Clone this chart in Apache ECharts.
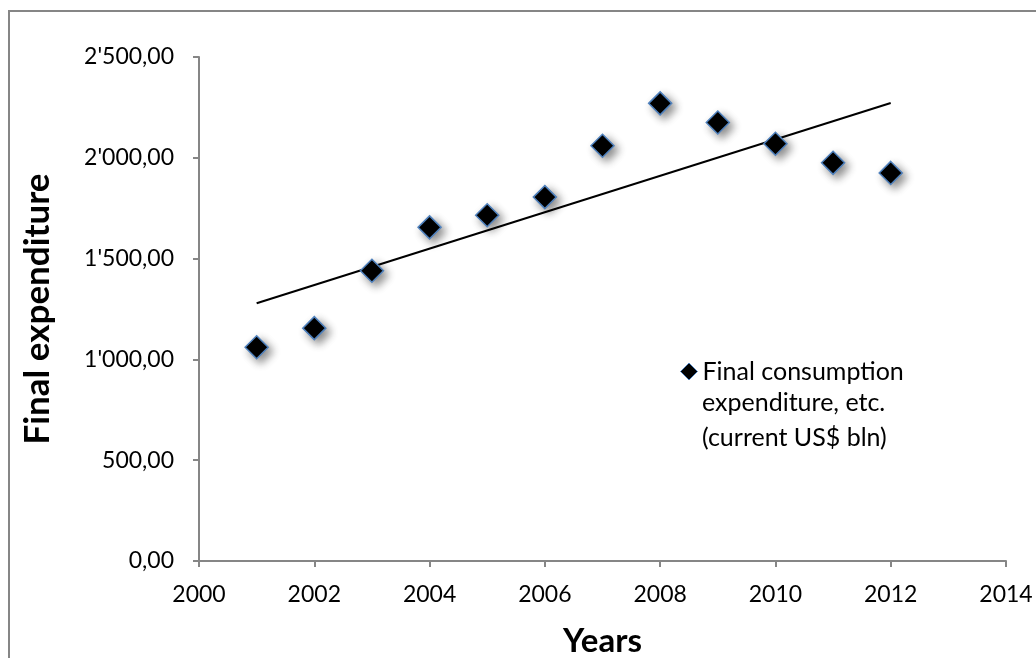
<!DOCTYPE html>
<html><head><meta charset="utf-8">
<script src="https://cdn.jsdelivr.net/npm/echarts@6/dist/echarts.min.js"></script>
<style>html,body{margin:0;padding:0;background:#fff}#c{width:1036px;height:658px}</style>
</head><body><div id="c"></div>
<script>
const years = [2001,2002,2003,2004,2005,2006,2007,2008,2009,2010,2011,2012];
const expenditure = [1060,1155,1440,1655,1715,1805,2060,2270,2175,2070,1975,1925];
const xTicks = [2000,2002,2004,2006,2008,2010,2012,2014];
const yTicks = [0,500,1000,1500,2000,2500];
const seriesName = 'Final consumption\nexpenditure, etc.\n(current US$ bln)';
const nameLines = seriesName.split('\n');

// linear trend (least squares) from the data
const n = years.length;
const mx = years.reduce((a,b)=>a+b,0)/n;
const my = expenditure.reduce((a,b)=>a+b,0)/n;
let sxy=0, sxx=0;
for (let i=0;i<n;i++){ sxy+=(years[i]-mx)*(expenditure[i]-my); sxx+=(years[i]-mx)*(years[i]-mx); }
const slope = sxy/sxx, icpt = my - slope*mx;
const trend = [years[0], years[n-1]].map(x=>[x, icpt+slope*x]);

function fmt(v){
  const s = v.toFixed(2).split('.');
  const int = s[0].replace(/\B(?=(\d{3})+(?!\d))/g, "'");
  return int + ',' + s[1];
}
const FONT = 'Lato, "Open Sans", sans-serif';
const AX = '#868686';
const chart = echarts.init(document.getElementById('c'), null, {renderer:'canvas'});
chart.setOption({
  animation:false,
  backgroundColor:'#fff',
  graphic:[
    {type:'rect', shape:{x:9,y:11,width:1200,height:800}, style:{fill:'none', stroke:AX, lineWidth:2}, silent:true},
    {type:'text', left:702, top:385, silent:true,
      style:{text:nameLines.slice(1).join('\n'), font:'25px Lato, "Open Sans", sans-serif', fill:'#000', lineHeight:35}}
  ],
  grid:{left:199, right:30, top:57, bottom:97, containLabel:false, outerBoundsMode:'none'},
  xAxis:{type:'value', min:xTicks[0], max:xTicks[xTicks.length-1], interval:2,
    name:'Years', nameLocation:'middle', nameGap:64,
    nameTextStyle:{fontFamily:FONT, fontSize:33, fontWeight:'bold', color:'#000'},
    axisLine:{show:true, lineStyle:{color:AX, width:2}},
    axisTick:{show:true, length:6, lineStyle:{color:AX, width:2}},
    axisLabel:{fontFamily:FONT, fontSize:23, color:'#000', margin:22, formatter:v=>String(v)},
    splitLine:{show:false}},
  yAxis:{type:'value', min:yTicks[0], max:yTicks[yTicks.length-1], interval:500,
    name:'Final expenditure', nameLocation:'middle', nameGap:144,
    nameTextStyle:{fontFamily:FONT, fontSize:35, fontWeight:'bold', color:'#000'},
    axisLine:{show:true, lineStyle:{color:AX, width:2}},
    axisTick:{show:true, length:6, lineStyle:{color:AX, width:2}},
    axisLabel:{fontFamily:FONT, fontSize:23, color:'#000', margin:25, formatter:fmt},
    splitLine:{show:false}},
  legend:{show:true, left:675, top:349, orient:'vertical', itemWidth:17, itemHeight:17,
    formatter:name=>name.split('\n')[0],
    data:[{name:seriesName, icon:'diamond', itemStyle:{color:'#000', borderColor:'#4f81bd', borderWidth:1, shadowBlur:0}}],
    textStyle:{fontFamily:FONT, fontSize:25, color:'#000', lineHeight:35, padding:[0,0,0,0]},
    selectedMode:false},
  series:[
    {type:'line', name:'trend', data:trend, showSymbol:false, symbol:'none',
      lineStyle:{color:'#000', width:2}, silent:true, z:1},
    {type:'scatter', name:seriesName, data:years.map((y,i)=>[y, expenditure[i]]),
      symbol:'diamond', symbolSize:23,
      itemStyle:{color:'#000', borderColor:'#4f81bd', borderWidth:1.5, opacity:1,
        shadowBlur:8, shadowColor:'rgba(0,0,0,0.45)', shadowOffsetX:4, shadowOffsetY:4}, z:3}
  ]
});
</script></body></html>
